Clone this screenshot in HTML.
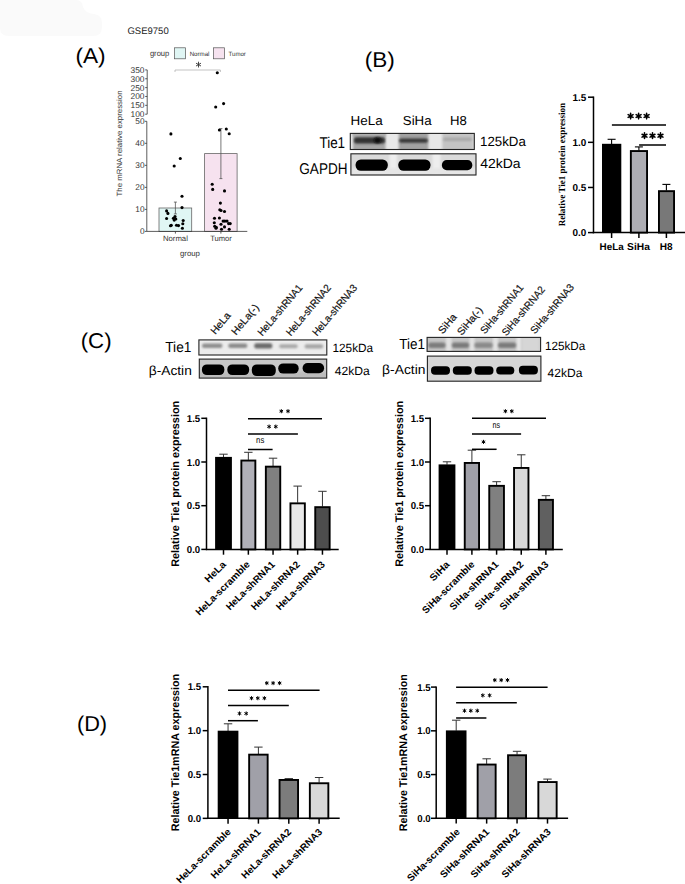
<!DOCTYPE html><html><head><meta charset="utf-8"><style>html,body{margin:0;padding:0;background:#fff;overflow:hidden}svg{display:block}</style></head><body><svg width="685" height="884" viewBox="0 0 685 884" text-rendering="geometricPrecision">
<defs>
<filter id="b1" x="-20%" y="-50%" width="140%" height="200%"><feGaussianBlur stdDeviation="1"/></filter>
<filter id="b15" x="-20%" y="-50%" width="140%" height="200%"><feGaussianBlur stdDeviation="1.5"/></filter>
<filter id="b07" x="-20%" y="-50%" width="140%" height="200%"><feGaussianBlur stdDeviation="0.7"/></filter>
<filter id="b2" x="-20%" y="-50%" width="140%" height="200%"><feGaussianBlur stdDeviation="2"/></filter>
</defs>
<rect x="0" y="0" width="685" height="884" fill="#fff"/>
<path d="M0,0 H76 Q82,0 83,7 Q85,13 94,14 Q102,15 102,23 V27 Q102,36 93,36 H9 Q0,36 0,28 Z" fill="#fafafa"/>
<text x="127.4" y="34.3" font-family="Liberation Sans" font-size="9.5" text-anchor="start" fill="#222" textLength="41.3" lengthAdjust="spacingAndGlyphs">GSE9750</text>
<text x="75.4" y="62.8" font-family="Liberation Sans" font-size="21.5" text-anchor="start" fill="#000" textLength="30.2" lengthAdjust="spacingAndGlyphs">(A)</text>
<text x="149.9" y="56.4" font-family="Liberation Sans" font-size="8" text-anchor="start" fill="#333" textLength="19.4" lengthAdjust="spacingAndGlyphs">group</text>
<rect x="174.6" y="47.8" width="11" height="11" fill="#e0f6f4" stroke="#555" stroke-width="0.7"/>
<text x="189.7" y="55.8" font-family="Liberation Sans" font-size="6.2" text-anchor="start" fill="#333" textLength="19.8" lengthAdjust="spacingAndGlyphs">Normal</text>
<rect x="213.4" y="47.8" width="11" height="11" fill="#f6e2ef" stroke="#555" stroke-width="0.7"/>
<text x="228.5" y="55.8" font-family="Liberation Sans" font-size="6.2" text-anchor="start" fill="#333" textLength="17.4" lengthAdjust="spacingAndGlyphs">Tumor</text>
<path d="M198.50,62.10L198.50,67.10M196.33,63.35L200.67,65.85M200.67,63.35L196.33,65.85" stroke="#333" stroke-width="0.9" stroke-linecap="round" fill="none"/>
<path d="M175,72 V70 H220.4 V72" fill="none" stroke="#aaa" stroke-width="0.7"/>
<line x1="147.2" y1="69.9" x2="147.2" y2="114.2" stroke="#333" stroke-width="0.8"/>
<line x1="145.2" y1="69.9" x2="147.2" y2="69.9" stroke="#333" stroke-width="0.8"/>
<text x="144.5" y="72.80000000000001" font-family="Liberation Sans" font-size="8.3" text-anchor="end" fill="#333" textLength="14" lengthAdjust="spacingAndGlyphs">350</text>
<line x1="145.2" y1="78.76" x2="147.2" y2="78.76" stroke="#333" stroke-width="0.8"/>
<text x="144.5" y="81.66000000000001" font-family="Liberation Sans" font-size="8.3" text-anchor="end" fill="#333" textLength="14" lengthAdjust="spacingAndGlyphs">300</text>
<line x1="145.2" y1="87.62" x2="147.2" y2="87.62" stroke="#333" stroke-width="0.8"/>
<text x="144.5" y="90.52000000000001" font-family="Liberation Sans" font-size="8.3" text-anchor="end" fill="#333" textLength="14" lengthAdjust="spacingAndGlyphs">250</text>
<line x1="145.2" y1="96.48" x2="147.2" y2="96.48" stroke="#333" stroke-width="0.8"/>
<text x="144.5" y="99.38000000000001" font-family="Liberation Sans" font-size="8.3" text-anchor="end" fill="#333" textLength="14" lengthAdjust="spacingAndGlyphs">200</text>
<line x1="145.2" y1="105.34" x2="147.2" y2="105.34" stroke="#333" stroke-width="0.8"/>
<text x="144.5" y="108.24000000000001" font-family="Liberation Sans" font-size="8.3" text-anchor="end" fill="#333" textLength="14" lengthAdjust="spacingAndGlyphs">150</text>
<line x1="145.2" y1="114.2" x2="147.2" y2="114.2" stroke="#333" stroke-width="0.8"/>
<text x="144.5" y="117.10000000000001" font-family="Liberation Sans" font-size="8.3" text-anchor="end" fill="#333" textLength="14" lengthAdjust="spacingAndGlyphs">100</text>
<line x1="146.8" y1="121.3" x2="146.8" y2="231.4" stroke="#333" stroke-width="0.8"/>
<line x1="144.8" y1="121.3" x2="146.8" y2="121.3" stroke="#333" stroke-width="0.8"/>
<text x="144.5" y="124.2" font-family="Liberation Sans" font-size="8.3" text-anchor="end" fill="#333">50</text>
<line x1="144.8" y1="143.32" x2="146.8" y2="143.32" stroke="#333" stroke-width="0.8"/>
<text x="144.5" y="146.22" font-family="Liberation Sans" font-size="8.3" text-anchor="end" fill="#333">40</text>
<line x1="144.8" y1="165.34" x2="146.8" y2="165.34" stroke="#333" stroke-width="0.8"/>
<text x="144.5" y="168.24" font-family="Liberation Sans" font-size="8.3" text-anchor="end" fill="#333">30</text>
<line x1="144.8" y1="187.36" x2="146.8" y2="187.36" stroke="#333" stroke-width="0.8"/>
<text x="144.5" y="190.26000000000002" font-family="Liberation Sans" font-size="8.3" text-anchor="end" fill="#333">20</text>
<line x1="144.8" y1="209.38" x2="146.8" y2="209.38" stroke="#333" stroke-width="0.8"/>
<text x="144.5" y="212.28" font-family="Liberation Sans" font-size="8.3" text-anchor="end" fill="#333">10</text>
<line x1="144.8" y1="231.39999999999998" x2="146.8" y2="231.39999999999998" stroke="#333" stroke-width="0.8"/>
<text x="144.5" y="234.29999999999998" font-family="Liberation Sans" font-size="8.3" text-anchor="end" fill="#333">0</text>
<rect x="159" y="208" width="32.7" height="23.4" fill="#e0f6f4" stroke="#666" stroke-width="0.8"/>
<rect x="204.6" y="153.6" width="32.5" height="77.8" fill="#f6e2ef" stroke="#666" stroke-width="0.8"/>
<line x1="146.8" y1="231.4" x2="247.3" y2="231.4" stroke="#333" stroke-width="0.8"/>
<line x1="175.4" y1="231.4" x2="175.4" y2="233.6" stroke="#333" stroke-width="0.8"/>
<line x1="220.9" y1="231.4" x2="220.9" y2="233.6" stroke="#333" stroke-width="0.8"/>
<line x1="175.4" y1="202.1" x2="175.4" y2="213.9" stroke="#555" stroke-width="0.8"/>
<line x1="173.9" y1="202.1" x2="176.9" y2="202.1" stroke="#555" stroke-width="0.8"/>
<line x1="173.9" y1="213.9" x2="176.9" y2="213.9" stroke="#555" stroke-width="0.8"/>
<line x1="220.9" y1="128.6" x2="220.9" y2="178.6" stroke="#555" stroke-width="0.8"/>
<line x1="219.4" y1="128.6" x2="222.4" y2="128.6" stroke="#555" stroke-width="0.8"/>
<line x1="219.4" y1="178.6" x2="222.4" y2="178.6" stroke="#555" stroke-width="0.8"/>
<circle cx="182" cy="196.2" r="1.55" fill="#000"/>
<circle cx="182" cy="207.6" r="1.55" fill="#000"/>
<circle cx="166.6" cy="210.9" r="1.55" fill="#000"/>
<circle cx="167.9" cy="213.4" r="1.55" fill="#000"/>
<circle cx="166.6" cy="218.5" r="1.55" fill="#000"/>
<circle cx="173.4" cy="218.3" r="1.55" fill="#000"/>
<circle cx="175" cy="216.6" r="1.55" fill="#000"/>
<circle cx="175.8" cy="219" r="1.55" fill="#000"/>
<circle cx="174.2" cy="220.1" r="1.55" fill="#000"/>
<circle cx="183.2" cy="220.5" r="1.55" fill="#000"/>
<circle cx="182.8" cy="223.8" r="1.55" fill="#000"/>
<circle cx="170.5" cy="225.8" r="1.55" fill="#000"/>
<circle cx="171.3" cy="225.2" r="1.55" fill="#000"/>
<circle cx="176.5" cy="225.2" r="1.55" fill="#000"/>
<circle cx="178.5" cy="225.6" r="1.55" fill="#000"/>
<circle cx="182.4" cy="228.3" r="1.55" fill="#000"/>
<circle cx="170.9" cy="133.9" r="1.55" fill="#000"/>
<circle cx="180.3" cy="158.5" r="1.55" fill="#000"/>
<circle cx="174.2" cy="166" r="1.55" fill="#000"/>
<circle cx="217.3" cy="72.7" r="1.55" fill="#000"/>
<circle cx="215.7" cy="107" r="1.55" fill="#000"/>
<circle cx="223.6" cy="103.6" r="1.55" fill="#000"/>
<circle cx="219.4" cy="130" r="1.55" fill="#000"/>
<circle cx="226.3" cy="129" r="1.55" fill="#000"/>
<circle cx="229.2" cy="133.7" r="1.55" fill="#000"/>
<circle cx="212.2" cy="184.3" r="1.55" fill="#000"/>
<circle cx="212.7" cy="189.4" r="1.55" fill="#000"/>
<circle cx="224.5" cy="190.9" r="1.55" fill="#000"/>
<circle cx="220.4" cy="203.1" r="1.55" fill="#000"/>
<circle cx="219.8" cy="209.7" r="1.55" fill="#000"/>
<circle cx="221" cy="210.5" r="1.55" fill="#000"/>
<circle cx="224.5" cy="211.5" r="1.55" fill="#000"/>
<circle cx="214.5" cy="218.3" r="1.55" fill="#000"/>
<circle cx="219.4" cy="218" r="1.55" fill="#000"/>
<circle cx="214.3" cy="222.8" r="1.55" fill="#000"/>
<circle cx="223.1" cy="221.1" r="1.55" fill="#000"/>
<circle cx="224.9" cy="221.1" r="1.55" fill="#000"/>
<circle cx="227" cy="221.1" r="1.55" fill="#000"/>
<circle cx="228.6" cy="223.6" r="1.55" fill="#000"/>
<circle cx="230.2" cy="223.6" r="1.55" fill="#000"/>
<circle cx="214.7" cy="226.2" r="1.55" fill="#000"/>
<circle cx="216.3" cy="227.3" r="1.55" fill="#000"/>
<circle cx="221" cy="224.2" r="1.55" fill="#000"/>
<circle cx="221.5" cy="229.3" r="1.55" fill="#000"/>
<circle cx="224.5" cy="226.9" r="1.55" fill="#000"/>
<circle cx="229.2" cy="229.3" r="1.55" fill="#000"/>
<circle cx="216" cy="228.3" r="1.55" fill="#000"/>
<text x="175.4" y="240.8" font-family="Liberation Sans" font-size="7.7" text-anchor="middle" fill="#333" textLength="25" lengthAdjust="spacingAndGlyphs">Normal</text>
<text x="221" y="240.8" font-family="Liberation Sans" font-size="7.7" text-anchor="middle" fill="#333" textLength="21.7" lengthAdjust="spacingAndGlyphs">Tumor</text>
<text x="190" y="255.6" font-family="Liberation Sans" font-size="7.8" text-anchor="middle" fill="#333" textLength="19.9" lengthAdjust="spacingAndGlyphs">group</text>
<text transform="translate(122,143.5) rotate(-90)" font-family="Liberation Sans" font-size="7.6" text-anchor="middle" fill="#333" textLength="106" lengthAdjust="spacingAndGlyphs">The mRNA relative expression</text>
<text x="364.8" y="67.3" font-family="Liberation Sans" font-size="21.5" text-anchor="start" fill="#000" textLength="30.1" lengthAdjust="spacingAndGlyphs">(B)</text>
<text x="350.6" y="124.7" font-family="Liberation Sans" font-size="13" text-anchor="start" fill="#000" textLength="32.1" lengthAdjust="spacingAndGlyphs">HeLa</text>
<text x="402.8" y="124.7" font-family="Liberation Sans" font-size="13" text-anchor="start" fill="#000" textLength="28.8" lengthAdjust="spacingAndGlyphs">SiHa</text>
<text x="449.9" y="124.7" font-family="Liberation Sans" font-size="13" text-anchor="start" fill="#000" textLength="16.8" lengthAdjust="spacingAndGlyphs">H8</text>
<text transform="translate(345.1,147.7) scale(1,1.2)" font-family="Liberation Sans" font-size="13" text-anchor="end" fill="#000" textLength="25.7" lengthAdjust="spacingAndGlyphs">Tie1</text>
<text transform="translate(347.5,174.4) scale(1,1.2)" font-family="Liberation Sans" font-size="13" text-anchor="end" fill="#000" textLength="48.2" lengthAdjust="spacingAndGlyphs">GAPDH</text>
<text transform="translate(480,146.4) scale(1,1.03)" font-family="Liberation Sans" font-size="13" text-anchor="start" fill="#000" textLength="45.8" lengthAdjust="spacingAndGlyphs">125kDa</text>
<text transform="translate(480.2,167.8) scale(1,1.03)" font-family="Liberation Sans" font-size="13" text-anchor="start" fill="#000" textLength="40.4" lengthAdjust="spacingAndGlyphs">42kDa</text>
<clipPath id="cb1"><rect x="350.3" y="133.4" width="124.0" height="16.099999999999994"/></clipPath>
<g clip-path="url(#cb1)">
<rect x="350.3" y="133.4" width="124.0" height="16.099999999999994" fill="#e8e8e8"/>
<rect x="353" y="132" width="32.5" height="19" rx="1" fill="#a6a6a6" opacity="1" filter="url(#b1)"/>
<rect x="353" y="132" width="32.5" height="5" rx="1" fill="#b0b0b0" opacity="1" filter="url(#b1)"/>
<rect x="354" y="137.3" width="31" height="6.299999999999983" rx="2.5" fill="#333" opacity="1" filter="url(#b1)"/>
<ellipse cx="377.5" cy="140.3" rx="3.5" ry="3" fill="#0c0c0c" filter="url(#b1)"/>
<rect x="398.7" y="132" width="29.600000000000023" height="19" rx="1" fill="#a2a2a2" opacity="1" filter="url(#b1)"/>
<rect x="399" y="138.6" width="29" height="4.200000000000017" rx="2.5" fill="#383838" opacity="1" filter="url(#b1)"/>
<rect x="442.3" y="132" width="31.30000000000001" height="19" rx="1" fill="#c4c4c4" opacity="1" filter="url(#b1)"/>
<rect x="443" y="137.5" width="29" height="3.5" rx="2" fill="#a8a8a8" opacity="1" filter="url(#b1)"/>
</g>
<rect x="350.3" y="133.4" width="124.0" height="16.099999999999994" fill="none" stroke="#222" stroke-width="1.1"/>
<clipPath id="cb2"><rect x="350.9" y="153.8" width="125.10000000000002" height="21.19999999999999"/></clipPath>
<g clip-path="url(#cb2)">
<rect x="350.9" y="153.8" width="125.10000000000002" height="21.19999999999999" fill="#dadada"/>
<rect x="389.5" y="150.8" width="7.5" height="27.19999999999999" fill="#eeeeee" filter="url(#b1)"/>
<rect x="432.5" y="150.8" width="8.0" height="27.19999999999999" fill="#eeeeee" filter="url(#b1)"/>
<rect x="352" y="168" width="124" height="7" rx="1" fill="#e6e6e6" opacity="1" filter="url(#b1)"/>
<rect x="355.6" y="159.4" width="32.19999999999999" height="11.400000000000006" rx="5.2" fill="#000" opacity="1" filter="url(#b07)"/>
<rect x="398.3" y="159.4" width="32.19999999999999" height="11.400000000000006" rx="5.2" fill="#000" opacity="1" filter="url(#b07)"/>
<rect x="441.9" y="160" width="30.400000000000034" height="10.199999999999989" rx="4.8" fill="#000" opacity="1" filter="url(#b07)"/>
</g>
<rect x="350.9" y="153.8" width="125.10000000000002" height="21.19999999999999" fill="none" stroke="#222" stroke-width="1.1"/>
<line x1="593.5" y1="96.5" x2="593.5" y2="233.3" stroke="#000" stroke-width="1.5"/>
<line x1="588" y1="97.2" x2="593.5" y2="97.2" stroke="#000" stroke-width="1.5"/>
<text x="586.3" y="100.8" font-family="Liberation Sans" font-size="10" font-weight="bold" text-anchor="end" fill="#000" textLength="13.8" lengthAdjust="spacingAndGlyphs">1.5</text>
<line x1="588" y1="142.33" x2="593.5" y2="142.33" stroke="#000" stroke-width="1.5"/>
<text x="586.3" y="145.93" font-family="Liberation Sans" font-size="10" font-weight="bold" text-anchor="end" fill="#000" textLength="13.8" lengthAdjust="spacingAndGlyphs">1.0</text>
<line x1="588" y1="187.46" x2="593.5" y2="187.46" stroke="#000" stroke-width="1.5"/>
<text x="586.3" y="191.06" font-family="Liberation Sans" font-size="10" font-weight="bold" text-anchor="end" fill="#000" textLength="13.8" lengthAdjust="spacingAndGlyphs">0.5</text>
<line x1="588" y1="232.59000000000003" x2="593.5" y2="232.59000000000003" stroke="#000" stroke-width="1.5"/>
<text x="586.3" y="236.19000000000003" font-family="Liberation Sans" font-size="10" font-weight="bold" text-anchor="end" fill="#000" textLength="13.8" lengthAdjust="spacingAndGlyphs">0.0</text>
<line x1="592.8" y1="232.6" x2="685" y2="232.6" stroke="#000" stroke-width="1.5"/>
<line x1="611.6" y1="232.6" x2="611.6" y2="238" stroke="#000" stroke-width="1.5"/>
<line x1="638.9" y1="232.6" x2="638.9" y2="238" stroke="#000" stroke-width="1.5"/>
<line x1="666.4" y1="232.6" x2="666.4" y2="238" stroke="#000" stroke-width="1.5"/>
<line x1="611.6" y1="139.3" x2="611.6" y2="144.1" stroke="#000" stroke-width="1.1"/>
<line x1="607.6" y1="139.3" x2="615.6" y2="139.3" stroke="#000" stroke-width="1.1"/>
<line x1="638.9" y1="146.9" x2="638.9" y2="150.4" stroke="#000" stroke-width="1.1"/>
<line x1="634.9" y1="146.9" x2="642.9" y2="146.9" stroke="#000" stroke-width="1.1"/>
<line x1="666.4" y1="184.4" x2="666.4" y2="190.5" stroke="#000" stroke-width="1.1"/>
<line x1="662.4" y1="184.4" x2="670.4" y2="184.4" stroke="#000" stroke-width="1.1"/>
<rect x="602.0" y="143.79999999999998" width="19.299999999999955" height="88.80000000000001" fill="#000"/>
<rect x="630.85" y="151.04999999999998" width="16.200000000000024" height="81.55" fill="#adadb3" stroke="#000" stroke-width="1.9"/>
<rect x="658.95" y="191.14999999999998" width="15.1" height="41.45" fill="#787878" stroke="#000" stroke-width="1.9"/>
<line x1="611.9" y1="125.1" x2="666" y2="125.1" stroke="#000" stroke-width="1.5"/>
<line x1="639.1" y1="145" x2="666" y2="145" stroke="#000" stroke-width="1.5"/>
<path d="M630.60,113.15L630.60,118.85M628.13,114.58L633.07,117.42M633.07,114.58L628.13,117.42" stroke="#000" stroke-width="1.55" stroke-linecap="round" fill="none"/>
<path d="M638.60,113.15L638.60,118.85M636.13,114.58L641.07,117.42M641.07,114.58L636.13,117.42" stroke="#000" stroke-width="1.55" stroke-linecap="round" fill="none"/>
<path d="M646.60,113.15L646.60,118.85M644.13,114.58L649.07,117.42M649.07,114.58L644.13,117.42" stroke="#000" stroke-width="1.55" stroke-linecap="round" fill="none"/>
<path d="M644.50,132.85L644.50,138.55M642.03,134.27L646.97,137.12M646.97,134.27L642.03,137.12" stroke="#000" stroke-width="1.55" stroke-linecap="round" fill="none"/>
<path d="M652.50,132.85L652.50,138.55M650.03,134.27L654.97,137.12M654.97,134.27L650.03,137.12" stroke="#000" stroke-width="1.55" stroke-linecap="round" fill="none"/>
<path d="M660.50,132.85L660.50,138.55M658.03,134.27L662.97,137.12M662.97,134.27L658.03,137.12" stroke="#000" stroke-width="1.55" stroke-linecap="round" fill="none"/>
<text x="611.6" y="249.5" font-family="Liberation Sans" font-size="10" font-weight="bold" text-anchor="middle" fill="#000" textLength="24.1" lengthAdjust="spacingAndGlyphs">HeLa</text>
<text x="638.5" y="249.5" font-family="Liberation Sans" font-size="10" font-weight="bold" text-anchor="middle" fill="#000" textLength="22.8" lengthAdjust="spacingAndGlyphs">SiHa</text>
<text x="666.2" y="249.5" font-family="Liberation Sans" font-size="10" font-weight="bold" text-anchor="middle" fill="#000" textLength="12.9" lengthAdjust="spacingAndGlyphs">H8</text>
<text transform="translate(564.5,164.6) rotate(-90)" font-family="Liberation Serif" font-size="9.3" font-weight="bold" text-anchor="middle" fill="#000" textLength="123.4" lengthAdjust="spacingAndGlyphs">Relative Tie1 protein expression</text>
<text x="80.7" y="348" font-family="Liberation Sans" font-size="21.5" text-anchor="start" fill="#000" textLength="30.9" lengthAdjust="spacingAndGlyphs">(C)</text>
<text transform="translate(215.2,335) rotate(-50)" font-family="Liberation Sans" font-size="10.3" text-anchor="start" fill="#111" textLength="25" lengthAdjust="spacingAndGlyphs" stroke="#111" stroke-width="0.2">HeLa</text>
<text transform="translate(236.0,335.7) rotate(-50)" font-family="Liberation Sans" font-size="10.3" text-anchor="start" fill="#111" textLength="36.5" lengthAdjust="spacingAndGlyphs" stroke="#111" stroke-width="0.2">HeLa(-)</text>
<text transform="translate(262.3,336.6) rotate(-50)" font-family="Liberation Sans" font-size="10.3" text-anchor="start" fill="#111" textLength="63.5" lengthAdjust="spacingAndGlyphs" stroke="#111" stroke-width="0.2">HeLa-shRNA1</text>
<text transform="translate(290.7,336.6) rotate(-50)" font-family="Liberation Sans" font-size="10.3" text-anchor="start" fill="#111" textLength="63.5" lengthAdjust="spacingAndGlyphs" stroke="#111" stroke-width="0.2">HeLa-shRNA2</text>
<text transform="translate(317.0,336.6) rotate(-50)" font-family="Liberation Sans" font-size="10.3" text-anchor="start" fill="#111" textLength="63.5" lengthAdjust="spacingAndGlyphs" stroke="#111" stroke-width="0.2">HeLa-shRNA3</text>
<text transform="translate(191.4,351.5) scale(1,1.12)" font-family="Liberation Sans" font-size="13" text-anchor="end" fill="#000" textLength="26.2" lengthAdjust="spacingAndGlyphs">Tie1</text>
<text transform="translate(191.8,375.2) scale(1,1.02)" font-family="Liberation Sans" font-size="13" text-anchor="end" fill="#000" textLength="43.0" lengthAdjust="spacingAndGlyphs">&#946;-Actin</text>
<text x="332.5" y="352.2" font-family="Liberation Sans" font-size="12" text-anchor="start" fill="#000" textLength="40.6" lengthAdjust="spacingAndGlyphs">125kDa</text>
<text x="334.7" y="374.5" font-family="Liberation Sans" font-size="12" text-anchor="start" fill="#000" textLength="35" lengthAdjust="spacingAndGlyphs">42kDa</text>
<clipPath id="cc1"><rect x="198.9" y="339.9" width="127.9" height="15.100000000000023"/></clipPath>
<g clip-path="url(#cc1)">
<rect x="198.9" y="339.9" width="127.9" height="15.100000000000023" fill="#ececec"/>
<rect x="202" y="343.6" width="20.400000000000006" height="4.399999999999977" rx="2" fill="#8e8e8e" opacity="1" filter="url(#b1)"/>
<rect x="228.3" y="343.6" width="19.0" height="4.399999999999977" rx="2" fill="#8a8a8a" opacity="1" filter="url(#b1)"/>
<rect x="254.3" y="343.2" width="18.0" height="5.199999999999989" rx="2" fill="#6a6a6a" opacity="1" filter="url(#b1)"/>
<rect x="279.1" y="344.2" width="18.599999999999966" height="4.0" rx="2" fill="#a8a8a8" opacity="1" filter="url(#b1)"/>
<rect x="304.6" y="344.2" width="18.599999999999966" height="4.199999999999989" rx="2" fill="#a4a4a4" opacity="1" filter="url(#b1)"/>
</g>
<rect x="198.9" y="339.9" width="127.9" height="15.100000000000023" fill="none" stroke="#222" stroke-width="1.1"/>
<clipPath id="cc2"><rect x="199.3" y="359.1" width="127.39999999999998" height="19.0"/></clipPath>
<g clip-path="url(#cc2)">
<rect x="199.3" y="359.1" width="127.39999999999998" height="19.0" fill="#c8c8c8"/>
<rect x="199" y="372" width="128" height="7" rx="1" fill="#bcbcbc" opacity="1" filter="url(#b1)"/>
<rect x="201.9" y="364.4" width="22.5" height="10.700000000000045" rx="5" fill="#000" opacity="1" filter="url(#b07)"/>
<rect x="227.3" y="364.4" width="21.899999999999977" height="10.700000000000045" rx="5" fill="#000" opacity="1" filter="url(#b07)"/>
<rect x="251.8" y="364.4" width="24.0" height="11.700000000000045" rx="5" fill="#000" opacity="1" filter="url(#b07)"/>
<rect x="278.2" y="363.4" width="20.5" height="10.200000000000045" rx="5" fill="#000" opacity="1" filter="url(#b07)"/>
<rect x="302.6" y="363" width="21.5" height="10.199999999999989" rx="5" fill="#000" opacity="1" filter="url(#b07)"/>
</g>
<rect x="199.3" y="359.1" width="127.39999999999998" height="19.0" fill="none" stroke="#222" stroke-width="1.1"/>
<text transform="translate(442.7,334.6) rotate(-50)" font-family="Liberation Sans" font-size="10.3" text-anchor="start" fill="#111" textLength="22.5" lengthAdjust="spacingAndGlyphs" stroke="#111" stroke-width="0.2">SiHa</text>
<text transform="translate(461.8,336) rotate(-50)" font-family="Liberation Sans" font-size="10.3" text-anchor="start" fill="#111" textLength="33.5" lengthAdjust="spacingAndGlyphs" stroke="#111" stroke-width="0.2">SiHa(-)</text>
<text transform="translate(484.9,334.6) rotate(-50)" font-family="Liberation Sans" font-size="10.3" text-anchor="start" fill="#111" textLength="61" lengthAdjust="spacingAndGlyphs" stroke="#111" stroke-width="0.2">SiHa-shRNA1</text>
<text transform="translate(506.4,336.6) rotate(-50)" font-family="Liberation Sans" font-size="10.3" text-anchor="start" fill="#111" textLength="61" lengthAdjust="spacingAndGlyphs" stroke="#111" stroke-width="0.2">SiHa-shRNA2</text>
<text transform="translate(535.0,334.6) rotate(-50)" font-family="Liberation Sans" font-size="10.3" text-anchor="start" fill="#111" textLength="61.5" lengthAdjust="spacingAndGlyphs" stroke="#111" stroke-width="0.2">SiHa-shRNA3</text>
<text transform="translate(424.9,349.4) scale(1,1.13)" font-family="Liberation Sans" font-size="13" text-anchor="end" fill="#000" textLength="25.7" lengthAdjust="spacingAndGlyphs">Tie1</text>
<text transform="translate(425.4,373.7) scale(1,1.02)" font-family="Liberation Sans" font-size="13" text-anchor="end" fill="#000" textLength="43.3" lengthAdjust="spacingAndGlyphs">&#946;-Actin</text>
<text x="545.0" y="350.2" font-family="Liberation Sans" font-size="12" text-anchor="start" fill="#000" textLength="40.3" lengthAdjust="spacingAndGlyphs">125kDa</text>
<text x="547.6" y="376.8" font-family="Liberation Sans" font-size="12" text-anchor="start" fill="#000" textLength="34.8" lengthAdjust="spacingAndGlyphs">42kDa</text>
<clipPath id="cc3"><rect x="427.1" y="337.4" width="113.5" height="14.0"/></clipPath>
<g clip-path="url(#cc3)">
<rect x="427.1" y="337.4" width="113.5" height="14.0" fill="#c6c6c6"/>
<rect x="446" y="334.4" width="5.5" height="20.0" fill="#e2e2e2" filter="url(#b1)"/>
<rect x="469.5" y="334.4" width="5.0" height="20.0" fill="#e2e2e2" filter="url(#b1)"/>
<rect x="493" y="334.4" width="5" height="20.0" fill="#e2e2e2" filter="url(#b1)"/>
<rect x="516.5" y="334.4" width="5.0" height="20.0" fill="#e6e6e6" filter="url(#b1)"/>
<rect x="428.3" y="342.5" width="17.19999999999999" height="5.5" rx="2.5" fill="#7c7c7c" opacity="1" filter="url(#b1)"/>
<rect x="451.9" y="342.5" width="17.200000000000045" height="5.5" rx="2.5" fill="#7a7a7a" opacity="1" filter="url(#b1)"/>
<rect x="474.5" y="342.5" width="18.100000000000023" height="5.5" rx="2.5" fill="#8a8a8a" opacity="1" filter="url(#b1)"/>
<rect x="498" y="342.5" width="18.100000000000023" height="5.5" rx="2.5" fill="#7a7a7a" opacity="1" filter="url(#b1)"/>
<rect x="521.6" y="337" width="18.100000000000023" height="15" rx="1" fill="#d6d6d6" opacity="1" filter="url(#b1)"/>
</g>
<rect x="427.1" y="337.4" width="113.5" height="14.0" fill="none" stroke="#222" stroke-width="1.1"/>
<clipPath id="cc4"><rect x="427.4" y="356.1" width="113.5" height="25.099999999999966"/></clipPath>
<g clip-path="url(#cc4)">
<rect x="427.4" y="356.1" width="113.5" height="25.099999999999966" fill="#d6d6d6"/>
<rect x="431" y="366.2" width="19" height="8.600000000000023" rx="4" fill="#000" opacity="1" filter="url(#b07)"/>
<rect x="452.8" y="366.2" width="19.0" height="8.600000000000023" rx="4" fill="#000" opacity="1" filter="url(#b07)"/>
<rect x="474.5" y="366.2" width="19.0" height="8.600000000000023" rx="4" fill="#000" opacity="1" filter="url(#b07)"/>
<rect x="496.2" y="366.4" width="18.099999999999966" height="8.200000000000045" rx="4" fill="#000" opacity="1" filter="url(#b07)"/>
<rect x="518.9" y="365.8" width="19.0" height="8.800000000000011" rx="4" fill="#000" opacity="1" filter="url(#b07)"/>
</g>
<rect x="427.4" y="356.1" width="113.5" height="25.099999999999966" fill="none" stroke="#222" stroke-width="1.1"/>
<line x1="206.5" y1="417.6" x2="206.5" y2="550.1000000000001" stroke="#000" stroke-width="1.5"/>
<line x1="201.3" y1="418.3" x2="206.5" y2="418.3" stroke="#000" stroke-width="1.5"/>
<text x="200.2" y="421.9" font-family="Liberation Sans" font-size="10" font-weight="bold" text-anchor="end" fill="#000" textLength="13.4" lengthAdjust="spacingAndGlyphs">1.5</text>
<line x1="201.3" y1="462.0" x2="206.5" y2="462.0" stroke="#000" stroke-width="1.5"/>
<text x="200.2" y="465.6" font-family="Liberation Sans" font-size="10" font-weight="bold" text-anchor="end" fill="#000" textLength="13.4" lengthAdjust="spacingAndGlyphs">1.0</text>
<line x1="201.3" y1="505.70000000000005" x2="206.5" y2="505.70000000000005" stroke="#000" stroke-width="1.5"/>
<text x="200.2" y="509.3" font-family="Liberation Sans" font-size="10" font-weight="bold" text-anchor="end" fill="#000" textLength="13.4" lengthAdjust="spacingAndGlyphs">0.5</text>
<line x1="201.3" y1="549.4000000000001" x2="206.5" y2="549.4000000000001" stroke="#000" stroke-width="1.5"/>
<text x="200.2" y="553.0" font-family="Liberation Sans" font-size="10" font-weight="bold" text-anchor="end" fill="#000" textLength="13.4" lengthAdjust="spacingAndGlyphs">0.0</text>
<line x1="205.8" y1="549.4000000000001" x2="338.7" y2="549.4000000000001" stroke="#000" stroke-width="1.5"/>
<line x1="223.5" y1="549.4000000000001" x2="223.5" y2="554.7" stroke="#000" stroke-width="1.5"/>
<line x1="223.5" y1="454.2" x2="223.5" y2="457.2" stroke="#333" stroke-width="1.0"/>
<line x1="219.3" y1="454.2" x2="227.7" y2="454.2" stroke="#333" stroke-width="1.0"/>
<rect x="215.1" y="456.9" width="16.80000000000001" height="92.50000000000011" fill="#000"/>
<line x1="248.35000000000002" y1="549.4000000000001" x2="248.35000000000002" y2="554.7" stroke="#000" stroke-width="1.5"/>
<line x1="248.35000000000002" y1="452.3" x2="248.35000000000002" y2="459.9" stroke="#333" stroke-width="1.0"/>
<line x1="244.15000000000003" y1="452.3" x2="252.55" y2="452.3" stroke="#333" stroke-width="1.0"/>
<rect x="241.35" y="460.54999999999995" width="14.000000000000005" height="88.85000000000012" fill="#b0b0b8" stroke="#000" stroke-width="1.9"/>
<line x1="273.05" y1="549.4000000000001" x2="273.05" y2="554.7" stroke="#000" stroke-width="1.5"/>
<line x1="273.05" y1="458.2" x2="273.05" y2="466.0" stroke="#333" stroke-width="1.0"/>
<line x1="268.85" y1="458.2" x2="277.25" y2="458.2" stroke="#333" stroke-width="1.0"/>
<rect x="265.85" y="466.65" width="14.399999999999954" height="82.7500000000001" fill="#808080" stroke="#000" stroke-width="1.9"/>
<line x1="297.65" y1="549.4000000000001" x2="297.65" y2="554.7" stroke="#000" stroke-width="1.5"/>
<line x1="297.65" y1="486.1" x2="297.65" y2="502.7" stroke="#333" stroke-width="1.0"/>
<line x1="293.45" y1="486.1" x2="301.84999999999997" y2="486.1" stroke="#333" stroke-width="1.0"/>
<rect x="290.45" y="503.34999999999997" width="14.399999999999954" height="46.05000000000011" fill="#e8e8e8" stroke="#000" stroke-width="1.9"/>
<line x1="322.45" y1="549.4000000000001" x2="322.45" y2="554.7" stroke="#000" stroke-width="1.5"/>
<line x1="322.45" y1="491.3" x2="322.45" y2="506.5" stroke="#333" stroke-width="1.0"/>
<line x1="318.25" y1="491.3" x2="326.65" y2="491.3" stroke="#333" stroke-width="1.0"/>
<rect x="315.25" y="507.15" width="14.399999999999954" height="42.2500000000001" fill="#4d4d4d" stroke="#000" stroke-width="1.9"/>
<line x1="248" y1="418.8" x2="322" y2="418.8" stroke="#000" stroke-width="1.5"/>
<path d="M281.30,409.55L281.30,412.85M279.87,410.38L282.73,412.02M282.73,410.38L279.87,412.02" stroke="#000" stroke-width="1.0" stroke-linecap="round" fill="none"/>
<path d="M288.00,409.55L288.00,412.85M286.57,410.38L289.43,412.02M289.43,410.38L286.57,412.02" stroke="#000" stroke-width="1.0" stroke-linecap="round" fill="none"/>
<line x1="248" y1="434.1" x2="297.9" y2="434.1" stroke="#000" stroke-width="1.5"/>
<path d="M269.10,424.95L269.10,428.25M267.67,425.78L270.53,427.43M270.53,425.78L267.67,427.43" stroke="#000" stroke-width="1.0" stroke-linecap="round" fill="none"/>
<path d="M275.80,424.95L275.80,428.25M274.37,425.78L277.23,427.43M277.23,425.78L274.37,427.43" stroke="#000" stroke-width="1.0" stroke-linecap="round" fill="none"/>
<line x1="248" y1="449.5" x2="272.6" y2="449.5" stroke="#000" stroke-width="1.5"/>
<text x="260.2" y="443.4" font-family="Liberation Sans" font-size="9" text-anchor="middle" fill="#000" textLength="8.2" lengthAdjust="spacingAndGlyphs">ns</text>
<text transform="translate(178.7,483.85) rotate(-90)" font-family="Liberation Sans" font-size="11" font-weight="bold" text-anchor="middle" fill="#000" textLength="166" lengthAdjust="spacingAndGlyphs">Relative Tie1 protein expression</text>
<text transform="translate(226.5,565.1) rotate(-45)" font-family="Liberation Sans" font-size="9.8" font-weight="bold" text-anchor="end" fill="#000" textLength="25.5" lengthAdjust="spacingAndGlyphs">HeLa</text>
<text transform="translate(250.5,565.1) rotate(-45)" font-family="Liberation Sans" font-size="9.8" font-weight="bold" text-anchor="end" fill="#000" textLength="72" lengthAdjust="spacingAndGlyphs">HeLa-scramble</text>
<text transform="translate(275.5,565.1) rotate(-45)" font-family="Liberation Sans" font-size="9.8" font-weight="bold" text-anchor="end" fill="#000" textLength="64.5" lengthAdjust="spacingAndGlyphs">HeLa-shRNA1</text>
<text transform="translate(300.5,565.1) rotate(-45)" font-family="Liberation Sans" font-size="9.8" font-weight="bold" text-anchor="end" fill="#000" textLength="64.5" lengthAdjust="spacingAndGlyphs">HeLa-shRNA2</text>
<text transform="translate(325.5,565.1) rotate(-45)" font-family="Liberation Sans" font-size="9.8" font-weight="bold" text-anchor="end" fill="#000" textLength="64.5" lengthAdjust="spacingAndGlyphs">HeLa-shRNA3</text>
<line x1="430.2" y1="417.6" x2="430.2" y2="550.1000000000001" stroke="#000" stroke-width="1.5"/>
<line x1="425.0" y1="418.3" x2="430.2" y2="418.3" stroke="#000" stroke-width="1.5"/>
<text x="424.1" y="421.9" font-family="Liberation Sans" font-size="10" font-weight="bold" text-anchor="end" fill="#000" textLength="13.4" lengthAdjust="spacingAndGlyphs">1.5</text>
<line x1="425.0" y1="462.0" x2="430.2" y2="462.0" stroke="#000" stroke-width="1.5"/>
<text x="424.1" y="465.6" font-family="Liberation Sans" font-size="10" font-weight="bold" text-anchor="end" fill="#000" textLength="13.4" lengthAdjust="spacingAndGlyphs">1.0</text>
<line x1="425.0" y1="505.70000000000005" x2="430.2" y2="505.70000000000005" stroke="#000" stroke-width="1.5"/>
<text x="424.1" y="509.3" font-family="Liberation Sans" font-size="10" font-weight="bold" text-anchor="end" fill="#000" textLength="13.4" lengthAdjust="spacingAndGlyphs">0.5</text>
<line x1="425.0" y1="549.4000000000001" x2="430.2" y2="549.4000000000001" stroke="#000" stroke-width="1.5"/>
<text x="424.1" y="553.0" font-family="Liberation Sans" font-size="10" font-weight="bold" text-anchor="end" fill="#000" textLength="13.4" lengthAdjust="spacingAndGlyphs">0.0</text>
<line x1="429.5" y1="549.4000000000001" x2="562.8" y2="549.4000000000001" stroke="#000" stroke-width="1.5"/>
<line x1="447.0" y1="549.4000000000001" x2="447.0" y2="554.7" stroke="#000" stroke-width="1.5"/>
<line x1="447.0" y1="461.8" x2="447.0" y2="464.7" stroke="#333" stroke-width="1.0"/>
<line x1="442.8" y1="461.8" x2="451.2" y2="461.8" stroke="#333" stroke-width="1.0"/>
<rect x="438.6" y="464.4" width="16.799999999999955" height="85.00000000000011" fill="#000"/>
<line x1="471.9" y1="549.4000000000001" x2="471.9" y2="554.7" stroke="#000" stroke-width="1.5"/>
<line x1="471.9" y1="450.2" x2="471.9" y2="462.3" stroke="#333" stroke-width="1.0"/>
<line x1="467.7" y1="450.2" x2="476.09999999999997" y2="450.2" stroke="#333" stroke-width="1.0"/>
<rect x="464.75" y="462.95" width="14.299999999999988" height="86.45000000000009" fill="#a0a0a8" stroke="#000" stroke-width="1.9"/>
<line x1="496.6" y1="549.4000000000001" x2="496.6" y2="554.7" stroke="#000" stroke-width="1.5"/>
<line x1="496.6" y1="481.7" x2="496.6" y2="485.2" stroke="#333" stroke-width="1.0"/>
<line x1="492.40000000000003" y1="481.7" x2="500.8" y2="481.7" stroke="#333" stroke-width="1.0"/>
<rect x="489.25" y="485.84999999999997" width="14.699999999999966" height="63.55000000000011" fill="#808080" stroke="#000" stroke-width="1.9"/>
<line x1="521.25" y1="549.4000000000001" x2="521.25" y2="554.7" stroke="#000" stroke-width="1.5"/>
<line x1="521.25" y1="454.8" x2="521.25" y2="467.3" stroke="#333" stroke-width="1.0"/>
<line x1="517.05" y1="454.8" x2="525.45" y2="454.8" stroke="#333" stroke-width="1.0"/>
<rect x="514.0500000000001" y="467.95" width="14.399999999999954" height="81.45000000000009" fill="#d8d8d8" stroke="#000" stroke-width="1.9"/>
<line x1="545.9" y1="549.4000000000001" x2="545.9" y2="554.7" stroke="#000" stroke-width="1.5"/>
<line x1="545.9" y1="495.7" x2="545.9" y2="499.2" stroke="#333" stroke-width="1.0"/>
<line x1="541.6999999999999" y1="495.7" x2="550.1" y2="495.7" stroke="#333" stroke-width="1.0"/>
<rect x="538.85" y="499.84999999999997" width="14.1" height="49.55000000000011" fill="#606060" stroke="#000" stroke-width="1.9"/>
<line x1="472" y1="418.3" x2="546" y2="418.3" stroke="#000" stroke-width="1.5"/>
<path d="M505.40,409.55L505.40,412.85M503.97,410.38L506.83,412.02M506.83,410.38L503.97,412.02" stroke="#000" stroke-width="1.0" stroke-linecap="round" fill="none"/>
<path d="M511.80,409.55L511.80,412.85M510.37,410.38L513.23,412.02M513.23,410.38L510.37,412.02" stroke="#000" stroke-width="1.0" stroke-linecap="round" fill="none"/>
<line x1="472" y1="433.9" x2="521.1" y2="433.9" stroke="#000" stroke-width="1.5"/>
<text x="496.4" y="427.8" font-family="Liberation Sans" font-size="9" text-anchor="middle" fill="#000" textLength="7.6" lengthAdjust="spacingAndGlyphs">ns</text>
<line x1="472" y1="449.3" x2="496.6" y2="449.3" stroke="#000" stroke-width="1.5"/>
<path d="M483.50,440.25L483.50,443.55M482.07,441.07L484.93,442.72M484.93,441.07L482.07,442.72" stroke="#000" stroke-width="1.0" stroke-linecap="round" fill="none"/>
<text transform="translate(402.8,483.85) rotate(-90)" font-family="Liberation Sans" font-size="11" font-weight="bold" text-anchor="middle" fill="#000" textLength="166" lengthAdjust="spacingAndGlyphs">Relative Tie1 protein expression</text>
<text transform="translate(450.2,565.1) rotate(-45)" font-family="Liberation Sans" font-size="9.8" font-weight="bold" text-anchor="end" fill="#000" textLength="23.5" lengthAdjust="spacingAndGlyphs">SiHa</text>
<text transform="translate(475.2,565.1) rotate(-45)" font-family="Liberation Sans" font-size="9.8" font-weight="bold" text-anchor="end" fill="#000" textLength="69.5" lengthAdjust="spacingAndGlyphs">SiHa-scramble</text>
<text transform="translate(499.2,565.1) rotate(-45)" font-family="Liberation Sans" font-size="9.8" font-weight="bold" text-anchor="end" fill="#000" textLength="64.5" lengthAdjust="spacingAndGlyphs">SiHa-shRNA1</text>
<text transform="translate(524.2,565.1) rotate(-45)" font-family="Liberation Sans" font-size="9.8" font-weight="bold" text-anchor="end" fill="#000" textLength="64.5" lengthAdjust="spacingAndGlyphs">SiHa-shRNA2</text>
<text transform="translate(549.2,565.1) rotate(-45)" font-family="Liberation Sans" font-size="9.8" font-weight="bold" text-anchor="end" fill="#000" textLength="64.5" lengthAdjust="spacingAndGlyphs">SiHa-shRNA3</text>
<text x="76.9" y="731" font-family="Liberation Sans" font-size="21.5" text-anchor="start" fill="#000" textLength="30.2" lengthAdjust="spacingAndGlyphs">(D)</text>
<line x1="207.9" y1="686.0999999999999" x2="207.9" y2="819.05" stroke="#000" stroke-width="1.5"/>
<line x1="202.70000000000002" y1="686.8" x2="207.9" y2="686.8" stroke="#000" stroke-width="1.5"/>
<text x="201.1" y="690.4" font-family="Liberation Sans" font-size="10" font-weight="bold" text-anchor="end" fill="#000" textLength="13.4" lengthAdjust="spacingAndGlyphs">1.5</text>
<line x1="202.70000000000002" y1="730.65" x2="207.9" y2="730.65" stroke="#000" stroke-width="1.5"/>
<text x="201.1" y="734.2" font-family="Liberation Sans" font-size="10" font-weight="bold" text-anchor="end" fill="#000" textLength="13.4" lengthAdjust="spacingAndGlyphs">1.0</text>
<line x1="202.70000000000002" y1="774.5" x2="207.9" y2="774.5" stroke="#000" stroke-width="1.5"/>
<text x="201.1" y="778.1" font-family="Liberation Sans" font-size="10" font-weight="bold" text-anchor="end" fill="#000" textLength="13.4" lengthAdjust="spacingAndGlyphs">0.5</text>
<line x1="202.70000000000002" y1="818.3499999999999" x2="207.9" y2="818.3499999999999" stroke="#000" stroke-width="1.5"/>
<text x="201.1" y="821.9" font-family="Liberation Sans" font-size="10" font-weight="bold" text-anchor="end" fill="#000" textLength="13.4" lengthAdjust="spacingAndGlyphs">0.0</text>
<line x1="207.20000000000002" y1="818.3499999999999" x2="339.7" y2="818.3499999999999" stroke="#000" stroke-width="1.5"/>
<line x1="228.05" y1="818.3499999999999" x2="228.05" y2="823.6499999999999" stroke="#000" stroke-width="1.5"/>
<line x1="228.05" y1="723.8" x2="228.05" y2="731.0" stroke="#333" stroke-width="1.0"/>
<line x1="223.85000000000002" y1="723.8" x2="232.25" y2="723.8" stroke="#333" stroke-width="1.0"/>
<rect x="217.7" y="730.7" width="20.700000000000017" height="87.64999999999986" fill="#000"/>
<line x1="258.4" y1="818.3499999999999" x2="258.4" y2="823.6499999999999" stroke="#000" stroke-width="1.5"/>
<line x1="258.4" y1="747.1" x2="258.4" y2="754.0" stroke="#333" stroke-width="1.0"/>
<line x1="254.2" y1="747.1" x2="262.59999999999997" y2="747.1" stroke="#333" stroke-width="1.0"/>
<rect x="249.14999999999998" y="754.6500000000001" width="18.49999999999998" height="63.69999999999986" fill="#a0a0a8" stroke="#000" stroke-width="1.9"/>
<line x1="288.8" y1="818.3499999999999" x2="288.8" y2="823.6499999999999" stroke="#000" stroke-width="1.5"/>
<line x1="288.8" y1="778.6" x2="288.8" y2="779.3" stroke="#333" stroke-width="1.0"/>
<line x1="284.6" y1="778.6" x2="293.0" y2="778.6" stroke="#333" stroke-width="1.0"/>
<rect x="279.55" y="779.95" width="18.49999999999998" height="38.399999999999906" fill="#7c7c7c" stroke="#000" stroke-width="1.9"/>
<line x1="319.1" y1="818.3499999999999" x2="319.1" y2="823.6499999999999" stroke="#000" stroke-width="1.5"/>
<line x1="319.1" y1="777.5" x2="319.1" y2="782.6" stroke="#333" stroke-width="1.0"/>
<line x1="314.90000000000003" y1="777.5" x2="323.3" y2="777.5" stroke="#333" stroke-width="1.0"/>
<rect x="309.85" y="783.2500000000001" width="18.499999999999922" height="35.09999999999984" fill="#d8d8d8" stroke="#000" stroke-width="1.9"/>
<line x1="228" y1="690.3" x2="319.6" y2="690.3" stroke="#000" stroke-width="1.5"/>
<path d="M266.80,681.45L266.80,684.75M265.37,682.27L268.23,683.93M268.23,682.27L265.37,683.93" stroke="#000" stroke-width="1.0" stroke-linecap="round" fill="none"/>
<path d="M273.10,681.45L273.10,684.75M271.67,682.27L274.53,683.93M274.53,682.27L271.67,683.93" stroke="#000" stroke-width="1.0" stroke-linecap="round" fill="none"/>
<path d="M279.60,681.45L279.60,684.75M278.17,682.27L281.03,683.93M281.03,682.27L278.17,683.93" stroke="#000" stroke-width="1.0" stroke-linecap="round" fill="none"/>
<line x1="228" y1="705.6" x2="288.8" y2="705.6" stroke="#000" stroke-width="1.5"/>
<path d="M251.50,696.55L251.50,699.85M250.07,697.38L252.93,699.03M252.93,697.38L250.07,699.03" stroke="#000" stroke-width="1.0" stroke-linecap="round" fill="none"/>
<path d="M257.80,696.55L257.80,699.85M256.37,697.38L259.23,699.03M259.23,697.38L256.37,699.03" stroke="#000" stroke-width="1.0" stroke-linecap="round" fill="none"/>
<path d="M264.40,696.55L264.40,699.85M262.97,697.38L265.83,699.03M265.83,697.38L262.97,699.03" stroke="#000" stroke-width="1.0" stroke-linecap="round" fill="none"/>
<line x1="228" y1="720.7" x2="257.9" y2="720.7" stroke="#000" stroke-width="1.5"/>
<path d="M239.50,711.85L239.50,715.15M238.07,712.67L240.93,714.33M240.93,712.67L238.07,714.33" stroke="#000" stroke-width="1.0" stroke-linecap="round" fill="none"/>
<path d="M246.20,711.85L246.20,715.15M244.77,712.67L247.63,714.33M247.63,712.67L244.77,714.33" stroke="#000" stroke-width="1.0" stroke-linecap="round" fill="none"/>
<text transform="translate(178.7,752.5749999999999) rotate(-90)" font-family="Liberation Sans" font-size="11" font-weight="bold" text-anchor="middle" fill="#000" textLength="157.5" lengthAdjust="spacingAndGlyphs">Relative Tie1mRNA expression</text>
<text transform="translate(231.5,832.6) rotate(-45)" font-family="Liberation Sans" font-size="9.8" font-weight="bold" text-anchor="end" fill="#000" textLength="72.5" lengthAdjust="spacingAndGlyphs">HeLa-scramble</text>
<text transform="translate(261.5,832.6) rotate(-45)" font-family="Liberation Sans" font-size="9.8" font-weight="bold" text-anchor="end" fill="#000" textLength="66" lengthAdjust="spacingAndGlyphs">HeLa-shRNA1</text>
<text transform="translate(292,832.6) rotate(-45)" font-family="Liberation Sans" font-size="9.8" font-weight="bold" text-anchor="end" fill="#000" textLength="66" lengthAdjust="spacingAndGlyphs">HeLa-shRNA2</text>
<text transform="translate(323,832.6) rotate(-45)" font-family="Liberation Sans" font-size="9.8" font-weight="bold" text-anchor="end" fill="#000" textLength="66" lengthAdjust="spacingAndGlyphs">HeLa-shRNA3</text>
<line x1="436.2" y1="686.4" x2="436.2" y2="818.99" stroke="#000" stroke-width="1.5"/>
<line x1="431.0" y1="687.1" x2="436.2" y2="687.1" stroke="#000" stroke-width="1.5"/>
<text x="430.7" y="690.7" font-family="Liberation Sans" font-size="10" font-weight="bold" text-anchor="end" fill="#000" textLength="13.4" lengthAdjust="spacingAndGlyphs">1.5</text>
<line x1="431.0" y1="730.83" x2="436.2" y2="730.83" stroke="#000" stroke-width="1.5"/>
<text x="430.7" y="734.4" font-family="Liberation Sans" font-size="10" font-weight="bold" text-anchor="end" fill="#000" textLength="13.4" lengthAdjust="spacingAndGlyphs">1.0</text>
<line x1="431.0" y1="774.5600000000001" x2="436.2" y2="774.5600000000001" stroke="#000" stroke-width="1.5"/>
<text x="430.7" y="778.2" font-family="Liberation Sans" font-size="10" font-weight="bold" text-anchor="end" fill="#000" textLength="13.4" lengthAdjust="spacingAndGlyphs">0.5</text>
<line x1="431.0" y1="818.29" x2="436.2" y2="818.29" stroke="#000" stroke-width="1.5"/>
<text x="430.7" y="821.9" font-family="Liberation Sans" font-size="10" font-weight="bold" text-anchor="end" fill="#000" textLength="13.4" lengthAdjust="spacingAndGlyphs">0.0</text>
<line x1="435.5" y1="818.29" x2="568.1" y2="818.29" stroke="#000" stroke-width="1.5"/>
<line x1="456.20000000000005" y1="818.29" x2="456.20000000000005" y2="823.5899999999999" stroke="#000" stroke-width="1.5"/>
<line x1="456.20000000000005" y1="720.2" x2="456.20000000000005" y2="730.7" stroke="#333" stroke-width="1.0"/>
<line x1="452.00000000000006" y1="720.2" x2="460.40000000000003" y2="720.2" stroke="#333" stroke-width="1.0"/>
<rect x="445.90000000000003" y="730.4000000000001" width="20.599999999999966" height="87.88999999999987" fill="#000"/>
<line x1="486.65" y1="818.29" x2="486.65" y2="823.5899999999999" stroke="#000" stroke-width="1.5"/>
<line x1="486.65" y1="758.8" x2="486.65" y2="763.9" stroke="#333" stroke-width="1.0"/>
<line x1="482.45" y1="758.8" x2="490.84999999999997" y2="758.8" stroke="#333" stroke-width="1.0"/>
<rect x="477.65000000000003" y="764.5500000000001" width="17.999999999999922" height="53.73999999999994" fill="#a0a0a8" stroke="#000" stroke-width="1.9"/>
<line x1="517.05" y1="818.29" x2="517.05" y2="823.5899999999999" stroke="#000" stroke-width="1.5"/>
<line x1="517.05" y1="751.3" x2="517.05" y2="754.6" stroke="#333" stroke-width="1.0"/>
<line x1="512.8499999999999" y1="751.3" x2="521.25" y2="751.3" stroke="#333" stroke-width="1.0"/>
<rect x="508.05" y="755.2500000000001" width="17.99999999999998" height="63.03999999999989" fill="#7c7c7c" stroke="#000" stroke-width="1.9"/>
<line x1="547.5" y1="818.29" x2="547.5" y2="823.5899999999999" stroke="#000" stroke-width="1.5"/>
<line x1="547.5" y1="779.1" x2="547.5" y2="781.4" stroke="#333" stroke-width="1.0"/>
<line x1="543.3" y1="779.1" x2="551.7" y2="779.1" stroke="#333" stroke-width="1.0"/>
<rect x="538.35" y="782.0500000000001" width="18.300000000000047" height="36.23999999999994" fill="#d8d8d8" stroke="#000" stroke-width="1.9"/>
<line x1="456.1" y1="687.3" x2="547.6" y2="687.3" stroke="#000" stroke-width="1.5"/>
<path d="M494.80,678.45L494.80,681.75M493.37,679.27L496.23,680.93M496.23,679.27L493.37,680.93" stroke="#000" stroke-width="1.0" stroke-linecap="round" fill="none"/>
<path d="M501.20,678.45L501.20,681.75M499.77,679.27L502.63,680.93M502.63,679.27L499.77,680.93" stroke="#000" stroke-width="1.0" stroke-linecap="round" fill="none"/>
<path d="M507.50,678.45L507.50,681.75M506.07,679.27L508.93,680.93M508.93,679.27L506.07,680.93" stroke="#000" stroke-width="1.0" stroke-linecap="round" fill="none"/>
<line x1="456.1" y1="702.8" x2="516.8" y2="702.8" stroke="#000" stroke-width="1.5"/>
<path d="M482.80,693.75L482.80,697.05M481.37,694.57L484.23,696.23M484.23,694.57L481.37,696.23" stroke="#000" stroke-width="1.0" stroke-linecap="round" fill="none"/>
<path d="M489.60,693.75L489.60,697.05M488.17,694.57L491.03,696.23M491.03,694.57L488.17,696.23" stroke="#000" stroke-width="1.0" stroke-linecap="round" fill="none"/>
<line x1="456.1" y1="718" x2="486.4" y2="718" stroke="#000" stroke-width="1.5"/>
<path d="M464.50,709.05L464.50,712.35M463.07,709.88L465.93,711.53M465.93,709.88L463.07,711.53" stroke="#000" stroke-width="1.0" stroke-linecap="round" fill="none"/>
<path d="M470.80,709.05L470.80,712.35M469.37,709.88L472.23,711.53M472.23,709.88L469.37,711.53" stroke="#000" stroke-width="1.0" stroke-linecap="round" fill="none"/>
<path d="M477.30,709.05L477.30,712.35M475.87,709.88L478.73,711.53M478.73,709.88L475.87,711.53" stroke="#000" stroke-width="1.0" stroke-linecap="round" fill="none"/>
<text transform="translate(406.6,752.6949999999999) rotate(-90)" font-family="Liberation Sans" font-size="11" font-weight="bold" text-anchor="middle" fill="#000" textLength="157" lengthAdjust="spacingAndGlyphs">Relative Tie1mRNA expression</text>
<text transform="translate(460.5,832.6) rotate(-45)" font-family="Liberation Sans" font-size="9.8" font-weight="bold" text-anchor="end" fill="#000" textLength="70" lengthAdjust="spacingAndGlyphs">SiHa-scramble</text>
<text transform="translate(490,832.6) rotate(-45)" font-family="Liberation Sans" font-size="9.8" font-weight="bold" text-anchor="end" fill="#000" textLength="65" lengthAdjust="spacingAndGlyphs">SiHa-shRNA1</text>
<text transform="translate(520.5,832.6) rotate(-45)" font-family="Liberation Sans" font-size="9.8" font-weight="bold" text-anchor="end" fill="#000" textLength="65" lengthAdjust="spacingAndGlyphs">SiHa-shRNA2</text>
<text transform="translate(551.5,832.6) rotate(-45)" font-family="Liberation Sans" font-size="9.8" font-weight="bold" text-anchor="end" fill="#000" textLength="65" lengthAdjust="spacingAndGlyphs">SiHa-shRNA3</text>
</svg></body></html>
